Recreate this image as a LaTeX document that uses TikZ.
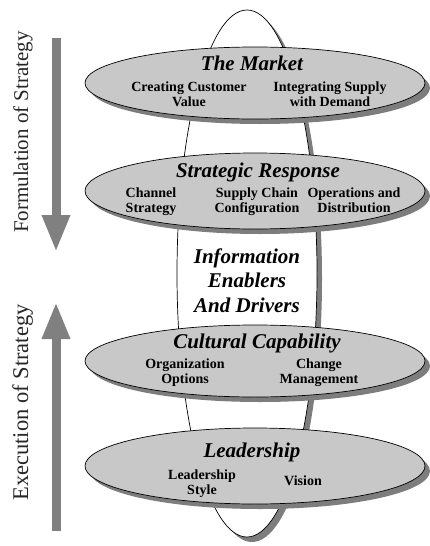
\documentclass[tikz,border=0pt]{standalone}
\usepackage{fontspec}
\setmainfont{Liberation Serif}
\usetikzlibrary{shapes.geometric,shadows,arrows.meta}
\definecolor{discgray}{RGB}{200,200,200}
\definecolor{shadowgray}{RGB}{125,125,125}
\definecolor{arrowgray}{RGB}{128,128,128}
\newcommand{\twolines}[2]{\begin{tabular}[t]{@{}c@{}}#1\\#2\end{tabular}}
\begin{document}
\begin{tikzpicture}[x=1pt,y=-1pt,
  disc/.style={ellipse, draw=black, line width=0.7pt, fill=discgray, inner sep=0pt,
    minimum width=340pt, minimum height=#1,
    general shadow={fill=shadowgray, shadow xshift=5pt, shadow yshift=-5pt}},
  spine/.style={ellipse, draw=black, line width=0.7pt, fill=white, inner sep=0pt,
    minimum width=140pt, minimum height=527pt,
    general shadow={fill=shadowgray, shadow xshift=5pt, shadow yshift=-5pt}},
  ttl/.style={font=\fontsize{21}{24.5}\selectfont\bfseries\itshape, inner sep=0pt, anchor=base},
  sub/.style={font=\fontsize{14}{15.5}\selectfont\bfseries, inner sep=0pt, anchor=base},
  side/.style={inner sep=0pt, anchor=base, rotate=90, text=black!85},
  garrow/.style={draw=arrowgray, line width=9pt, -{Triangle[length=37pt,width=26pt,fill=arrowgray]}},
]
\useasboundingbox (0,0) rectangle (430,546);
\clip (0,0) rectangle (430,546);

% central spine
\node[spine] (spineE) at (247,273.5) {};

% discs
\node[disc=72pt] (market) at (255,83) {};
\node[disc=76pt] (strat) at (255,191) {};
\node[disc=72pt] (cult) at (255,361) {};
\node[disc=76pt] (lead) at (255,466) {};

% The Market
\node[ttl] (mktT) at (252,70) {The Market};
\node[sub] (mktA) at (189,91) {\twolines{Creating Customer}{Value}};
\node[sub] (mktB) at (330,91) {\twolines{Integrating Supply}{with Demand}};

% Strategic Response
\node[ttl] (strT) at (258,177) {Strategic Response};
\node[sub] (strA) at (151,197) {\twolines{Channel}{Strategy}};
\node[sub] (strB) at (257,197) {\twolines{Supply Chain}{Configuration}};
\node[sub] (strC) at (354,197) {\twolines{Operations and}{Distribution}};

% Information
\node[ttl] (inf1) at (247,263) {Information};
\node[ttl] (inf2) at (247,287.5) {Enablers};
\node[ttl] (inf3) at (247,312) {And Drivers};

% Cultural Capability
\node[ttl] (culT) at (257,348) {Cultural Capability};
\node[sub] (culA) at (185,368) {\twolines{Organization}{Options}};
\node[sub] (culB) at (319,368) {\twolines{Change}{Management}};

% Leadership
\node[ttl] (ledT) at (252,457) {Leadership};
\node[sub] (ledA) at (202,479) {\twolines{Leadership}{Style}};
\node[sub] (ledB) at (303,485) {Vision};

% side arrows
\coordinate (fTop) at (56,38);
\coordinate (fTip) at (56,252);
\coordinate (eBot) at (56,531);
\coordinate (eTip) at (56,302);
\draw[garrow] (fTop) -- (fTip);
\draw[garrow] (eBot) -- (eTip);

% side labels
\node[side, font=\fontsize{21}{24}\selectfont] (formL) at (28,132) {Formulation of Strategy};
\node[side, font=\fontsize{22.5}{24}\selectfont] (execL) at (28,402.5) {Execution of Strategy};
\end{tikzpicture}
\end{document}
